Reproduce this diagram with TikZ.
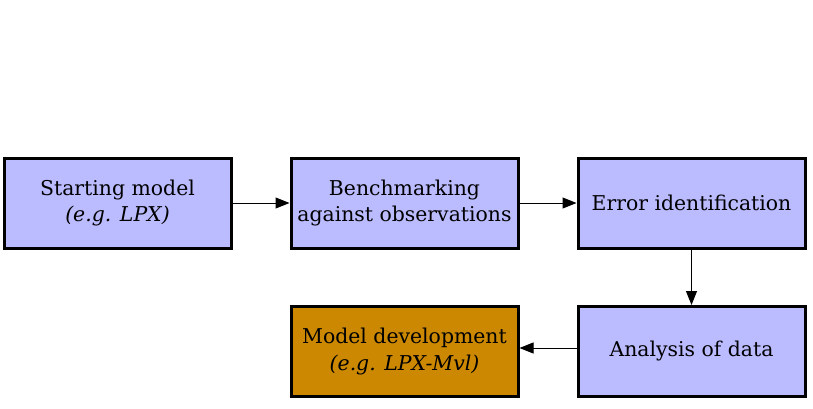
\documentclass[tikz,border=0pt]{standalone}
\usepackage{fontspec}
\setmainfont{DejaVu Serif}
\usetikzlibrary{arrows.meta}
\definecolor{boxblue}{RGB}{187,187,255}
\definecolor{boxorange}{RGB}{204,136,0}
\begin{document}
\begin{tikzpicture}[x=1pt,y=-1pt,
  stagebox/.style={draw=black, line width=3pt, fill=boxblue,
    minimum width=227pt, minimum height=90pt, inner sep=0pt,
    align=center, font=\fontsize{20.4}{26.5}\selectfont},
  flow/.style={-{Triangle[length=14pt,width=11pt]}, line width=1pt}]
  \useasboundingbox (0,0) rectangle (813,408);
  \fill[white] (0,0) rectangle (813,408);
  \node[stagebox] (start) at (117.5,203) {Starting model\\\textit{(e.g. LPX)}};
  \node[stagebox] (bench) at (404.5,203) {Benchmarking\\against observations};
  \node[stagebox] (err) at (691.5,203) {Error identification};
  \node[stagebox, fill=boxorange] (dev) at (404.5,351.5) {Model development\\\textit{(e.g. LPX-Mvl)}};
  \node[stagebox] (ana) at (691.5,351.5) {Analysis of data};
  \draw[flow] (start) -- (bench);
  \draw[flow] (bench) -- (err);
  \draw[flow] (err) -- (ana);
  \draw[flow] (ana.west |- 0,348) -- (dev.east |- 0,348);
\end{tikzpicture}
\end{document}
